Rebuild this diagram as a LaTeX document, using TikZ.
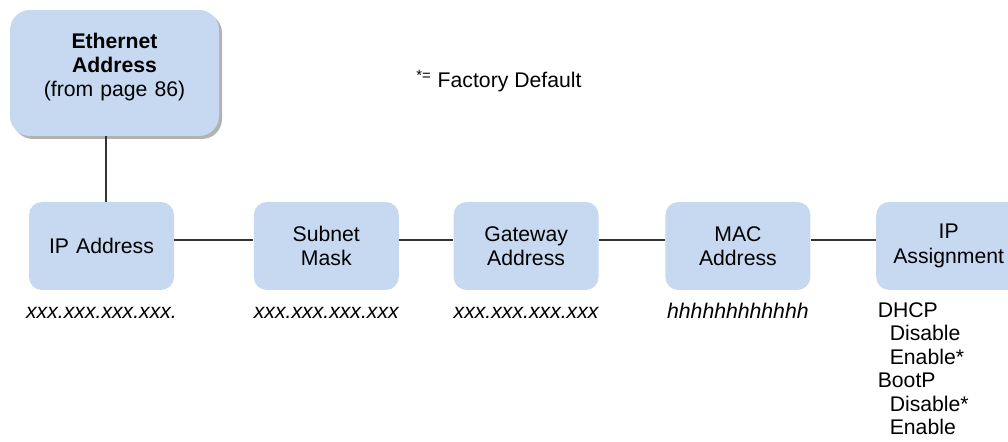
\documentclass[tikz,border=0pt]{standalone}
\usepackage{fontspec}
\setmainfont{Liberation Sans}
\usepackage{tikz}
\usetikzlibrary{positioning,shadows}
\definecolor{BoxFill}{HTML}{C6D9F1}
\definecolor{Line}{HTML}{333333}
\tikzset{
  menu/.style={rectangle, rounded corners=6.5pt, fill=BoxFill, text width=70pt,
    minimum width=72.5pt, minimum height=44pt, align=center, inner sep=1pt,
    font=\fontsize{10.6}{12.2}\selectfont},
  head/.style={menu, rounded corners=10pt, minimum width=104.5pt, minimum height=63pt,
    text width=100pt, text depth=32.5pt, drop shadow={shadow xshift=1.5pt, shadow yshift=-1.5pt,
    fill=black, opacity=0.3}},
  link/.style={draw=Line, line width=0.75pt},
  value/.style={inner sep=0pt, text height=8pt, text depth=2.5pt,
    font=\fontsize{10.6}{11.7}\selectfont\itshape},
  note/.style={inner sep=0pt, align=left, font=\fontsize{10.6}{11.7}\selectfont}
}
\begin{document}
\begin{tikzpicture}
  \useasboundingbox (0,0) rectangle (504pt,-221pt);
  \node[head] (eth) at (57.25pt,-36.5pt) {\textbf{Ethernet}\\\textbf{Address}\\(from page 86)};
  \node[note, anchor=base west] (default) at (208pt,-44pt) {\textsuperscript{*=} Factory Default};
  \node[menu] (ip) at (50.75pt,-123pt) {IP Address};
  \node[menu, right=39.5pt of ip] (subnet) {Subnet\\Mask};
  \node[menu, right=27pt of subnet] (gateway) {Gateway\\Address};
  \node[menu, right=33pt of gateway] (mac) {MAC\\Address};
  \node[menu, right=32.5pt of mac] (assign) {IP\\Assignment};
  \node[value, below=6pt of ip] (ipval) {xxx.xxx.xxx.xxx.};
  \node[value, below=6pt of subnet] (subnetval) {xxx.xxx.xxx.xxx};
  \node[value, below=6pt of gateway] (gatewayval) {xxx.xxx.xxx.xxx};
  \node[value, below=6pt of mac] (macval) {hhhhhhhhhhhh};
  \node[note, below right=6pt and 0.8pt of assign.south west] (assignval)
    {DHCP\\\hspace*{6pt}Disable\\\hspace*{6pt}Enable*\\BootP\\\hspace*{6pt}Disable*\\\hspace*{6pt}Enable};
  \draw[link] ([xshift=2.25pt]ip.north) -- ([xshift=2.25pt]ip.north |- eth.south);
  \draw[link] ([yshift=3pt]ip.east) -- ([yshift=3pt]subnet.west);
  \draw[link] ([yshift=3pt]subnet.east) -- ([yshift=3pt]gateway.west);
  \draw[link] ([yshift=3pt]gateway.east) -- ([yshift=3pt]mac.west);
  \draw[link] ([yshift=3pt]mac.east) -- ([yshift=3pt]assign.west);
\end{tikzpicture}
\end{document}
